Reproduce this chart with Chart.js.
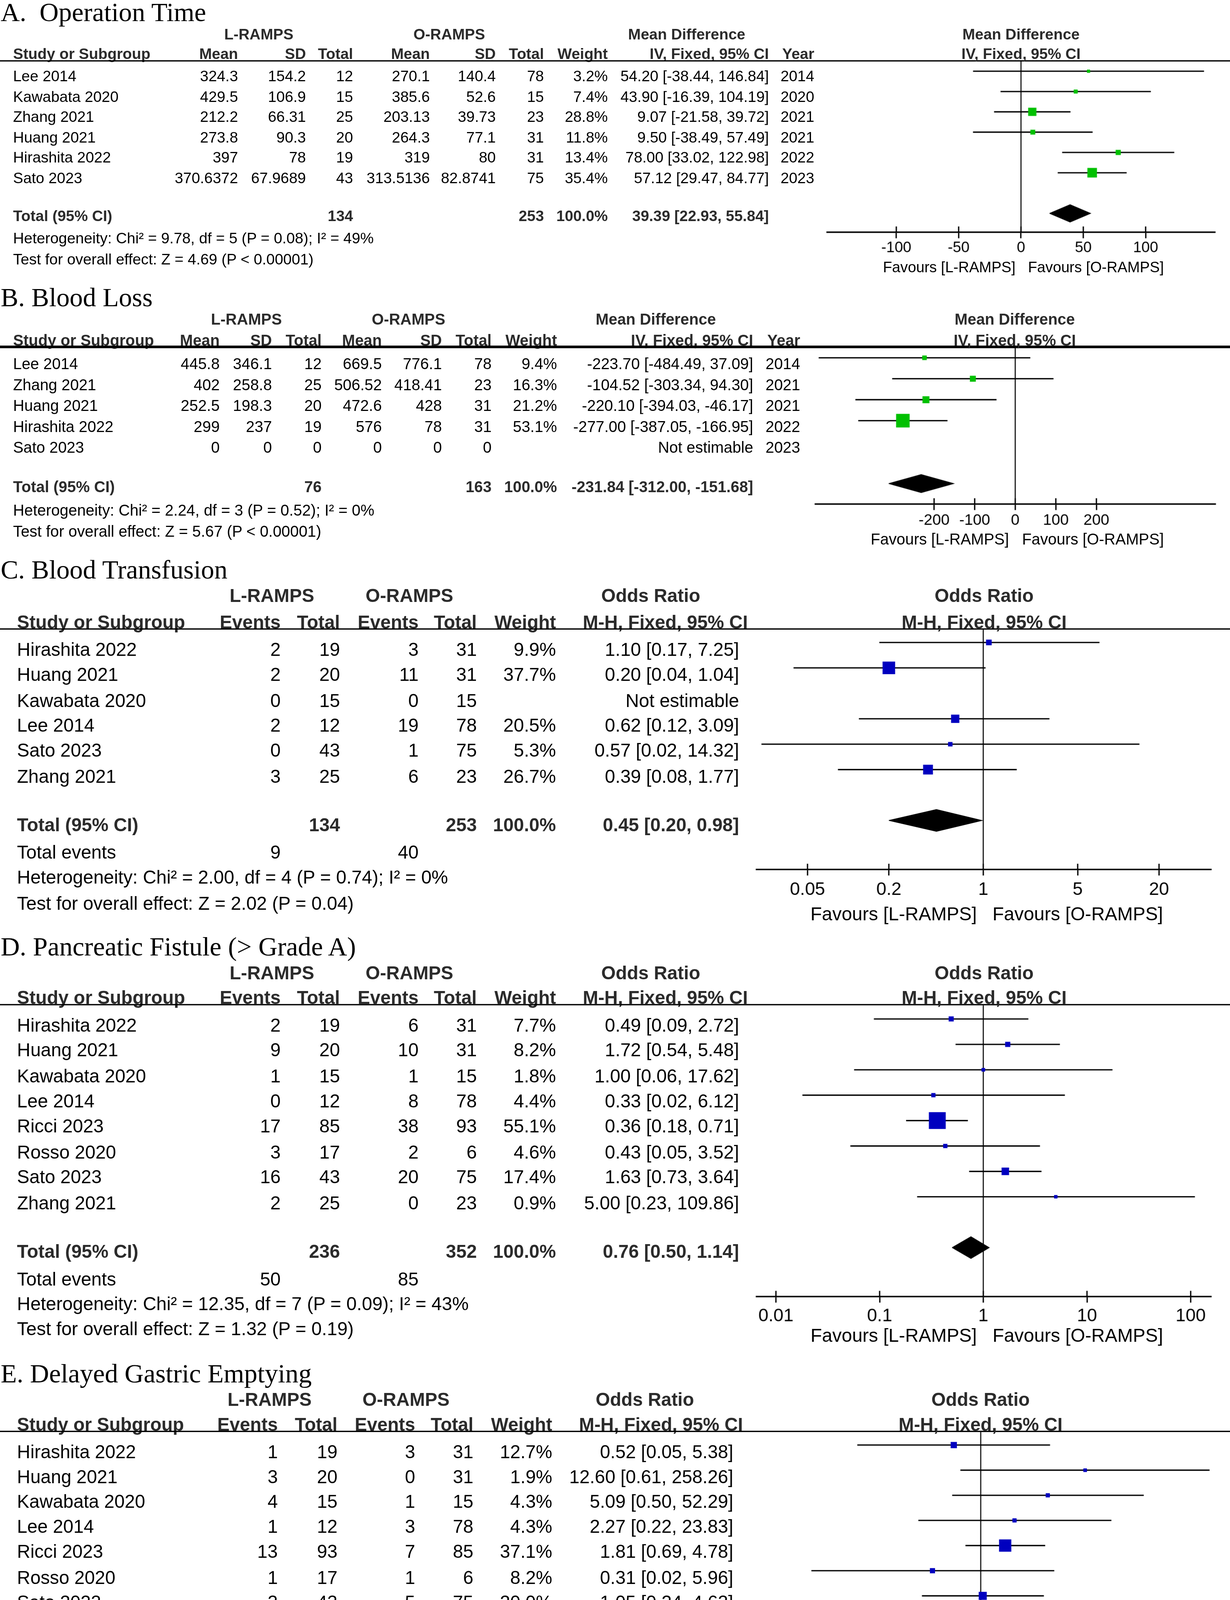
<!DOCTYPE html>
<html><head><meta charset="utf-8">
<script src="https://cdn.jsdelivr.net/npm/chart.js@4.4.1/dist/chart.umd.min.js"></script>
<style>
html,body{margin:0;padding:0;background:#fff;}
body{width:3150px;height:5273px;overflow:hidden;position:relative;}
#stage{position:absolute;left:0;top:0;width:940px;height:1574px;transform-origin:0 0;}
.t{position:absolute;line-height:0;white-space:pre;font-family:'Liberation Sans',Arial,Helvetica,sans-serif;color:#000;}
.r{transform:translateX(-100%);}
.c{transform:translateX(-50%);}
.b{font-weight:bold;color:#2b2b2b;}
.ttl{font-family:'Liberation Serif','Times New Roman',serif;font-size:20.2px;color:#000;}
.hl{position:absolute;left:0;width:940px;height:1.1px;background:#000;}
canvas{position:absolute;}
</style></head>
<body><div id="stage"></div>
<script>
// ---------------- DATA ----------------
// A. Operation Time (Mean Difference, IV, Fixed)
const A_study  = ["Lee 2014","Kawabata 2020","Zhang 2021","Huang 2021","Hirashita 2022","Sato 2023"];
const A_lMean  = [324.3,429.5,212.2,273.8,397,370.6372];
const A_lSD    = [154.2,106.9,66.31,90.3,78,67.9689];
const A_lN     = [12,15,25,20,19,43];
const A_oMean  = [270.1,385.6,203.13,264.3,319,313.5136];
const A_oSD    = [140.4,52.6,39.73,77.1,80,82.8741];
const A_oN     = [78,15,23,31,31,75];
const A_weight = [3.2,7.4,28.8,11.8,13.4,35.4];
const A_est    = [54.20,43.90,9.07,9.50,78.00,57.12];
const A_lo     = [-38.44,-16.39,-21.58,-38.49,33.02,29.47];
const A_hi     = [146.84,104.19,39.72,57.49,122.98,84.77];
const A_year   = [2014,2020,2021,2021,2022,2023];
const A_totalN = [134,253];
const A_pooled = [39.39,22.93,55.84];
const A_stats  = ["Heterogeneity: Chi\u00b2 = 9.78, df = 5 (P = 0.08); I\u00b2 = 49%","Test for overall effect: Z = 4.69 (P < 0.00001)"];
const A_ticks  = [-100,-50,0,50,100];
const A_tickLabels = ["-100","-50","0","50","100"];

// B. Blood Loss
const B_study  = ["Lee 2014","Zhang 2021","Huang 2021","Hirashita 2022","Sato 2023"];
const B_lMean  = [445.8,402,252.5,299,0];
const B_lSD    = [346.1,258.8,198.3,237,0];
const B_lN     = [12,25,20,19,0];
const B_oMean  = [669.5,506.52,472.6,576,0];
const B_oSD    = [776.1,418.41,428,78,0];
const B_oN     = [78,23,31,31,0];
const B_weight = [9.4,16.3,21.2,53.1,null];
const B_est    = [-223.70,-104.52,-220.10,-277.00,null];
const B_lo     = [-484.49,-303.34,-394.03,-387.05,null];
const B_hi     = [37.09,94.30,-46.17,-166.95,null];
const B_year   = [2014,2021,2021,2022,2023];
const B_totalN = [76,163];
const B_pooled = [-231.84,-312.00,-151.68];
const B_stats  = ["Heterogeneity: Chi\u00b2 = 2.24, df = 3 (P = 0.52); I\u00b2 = 0%","Test for overall effect: Z = 5.67 (P < 0.00001)"];
const B_ticks  = [-200,-100,0,100,200];
const B_tickLabels = ["-200","-100","0","100","200"];

// C. Blood Transfusion (Odds Ratio, M-H, Fixed)
const C_study  = ["Hirashita 2022","Huang 2021","Kawabata 2020","Lee 2014","Sato 2023","Zhang 2021"];
const C_lEv    = [2,2,0,2,0,3];
const C_lN     = [19,20,15,12,43,25];
const C_oEv    = [3,11,0,19,1,6];
const C_oN     = [31,31,15,78,75,23];
const C_weight = [9.9,37.7,null,20.5,5.3,26.7];
const C_est    = [1.10,0.20,null,0.62,0.57,0.39];
const C_lo     = [0.17,0.0394,null,0.12,0.0228,0.084];
const C_hi     = [7.25,1.04,null,3.09,14.32,1.77];
const C_totalN = [134,253];
const C_events = [9,40];
const C_pooled = [0.45,0.20,0.98];
const C_stats  = ["Heterogeneity: Chi\u00b2 = 2.00, df = 4 (P = 0.74); I\u00b2 = 0%","Test for overall effect: Z = 2.02 (P = 0.04)"];
const C_ticks  = [0.05,0.2,1,5,20];
const C_tickLabels = ["0.05","0.2","1","5","20"];

// D. Pancreatic Fistule (> Grade A)
const D_study  = ["Hirashita 2022","Huang 2021","Kawabata 2020","Lee 2014","Ricci 2023","Rosso 2020","Sato 2023","Zhang 2021"];
const D_lEv    = [2,9,1,0,17,3,16,2];
const D_lN     = [19,20,15,12,85,17,43,25];
const D_oEv    = [6,10,1,8,38,2,20,0];
const D_oN     = [31,31,15,78,93,6,75,23];
const D_weight = [7.7,8.2,1.8,4.4,55.1,4.6,17.4,0.9];
const D_est    = [0.49,1.72,1.00,0.33,0.36,0.43,1.63,5.00];
const D_lo     = [0.088,0.54,0.0567,0.018,0.18,0.0522,0.73,0.23];
const D_hi     = [2.72,5.48,17.62,6.12,0.71,3.52,3.64,109.86];
const D_totalN = [236,352];
const D_events = [50,85];
const D_pooled = [0.76,0.50,1.14];
const D_stats  = ["Heterogeneity: Chi\u00b2 = 12.35, df = 7 (P = 0.09); I\u00b2 = 43%","Test for overall effect: Z = 1.32 (P = 0.19)"];
const D_ticks  = [0.01,0.1,1,10,100];
const D_tickLabels = ["0.01","0.1","1","10","100"];

// E. Delayed Gastric Emptying
const E_study  = ["Hirashita 2022","Huang 2021","Kawabata 2020","Lee 2014","Ricci 2023","Rosso 2020","Sato 2023","Zhang 2021"];
const E_lEv    = [1,3,4,1,13,1,3,2];
const E_lN     = [19,20,15,12,93,17,43,25];
const E_oEv    = [3,0,1,3,7,1,5,2];
const E_oN     = [31,31,15,78,85,6,75,23];
const E_weight = [12.7,1.9,4.3,4.3,37.1,8.2,20.0,11.3];
const E_est    = [0.52,12.60,5.09,2.27,1.81,0.31,1.05,0.91];
const E_lo     = [0.05,0.61,0.50,0.22,0.69,0.0164,0.24,0.12];
const E_hi     = [5.38,258.26,52.29,23.83,4.78,5.96,4.63,7.07];
const E_totalN = [244,344];
const E_events = [28,22];
const E_pooled = [1.64,0.90,2.98];
const E_stats  = ["Heterogeneity: Chi\u00b2 = 5.58, df = 7 (P = 0.59); I\u00b2 = 0%","Test for overall effect: Z = 1.63 (P = 0.10)"];
const E_ticks  = [0.005,0.1,1,10,200];
const E_tickLabels = ["0.005","0.1","1","10","200"];

// F. Length of Stay (Mean Difference, IV, Random)
const F_study  = ["Hirashita 2022","Huang 2021","Lee 2014","Ricci 2023","Zhang 2021"];
const F_lMean  = [21.5,19,12.3,13,11.72];
const F_lSD    = [10.5,9.9,6.8,0.7,5.24];
const F_lN     = [19,20,12,93,25];
const F_oMean  = [29.4,19.6,22.4,11.9,12.921];
const F_oSD    = [23.3,16.8,21.6,6.4,5.02];
const F_oN     = [31,31,78,85,23];
const F_weight = [10.5,14.3,17.2,31.0,27.0];
const F_est    = [-7.90,-0.60,-10.10,1.10,-1.20];
const F_lo     = [-17.36,-7.93,-16.25,-0.27,-4.10];
const F_hi     = [1.56,6.73,-3.95,2.47,1.70];
const F_totalN = [169,248];
const F_pooled = [-2.63,-6.35,1.09];
const F_stats  = ["Heterogeneity: Tau\u00b2 = 11.12; Chi\u00b2 = 16.18, df = 4 (P = 0.003); I\u00b2 = 75%","Test for overall effect: Z = 1.39 (P = 0.17)"];
const F_ticks  = [-10,-5,0,5,10];
const F_tickLabels = ["-10","-5","0","5","10"];

// ---------------- LAYOUT (display units, scaled to 3150 px) ----------------
const LA = {titleY:8.7, grpY:25.8, colY:41.1, lineY:46.3, leftX:10.0, fs:11.6,
  colX:[181.9,233.8,269.8,328.5,378.9,415.7,464.5,587.6,622.3], ciHdrX:587.6, grpX:[197.8,343.3,524.8],
  row0:58.2, rowH:15.5, markOff:3.5,
  axis:{y:177.7, x0:632.1, x1:928.5, min:-155.6, max:155.6, log:false, tickFs:11.5, labelY:189.7, favY:204.1, favFs:11.4}};
const LB = {titleY:227.0, grpY:244.2, colY:260.2, lineY:265.0, leftX:10.0, fs:11.9,
  colX:[167.9,207.8,245.8,291.8,337.7,375.7,425.7,575.6,611.5], ciHdrX:575.6, grpX:[188.3,312.2,501.2],
  row0:277.5, rowH:16.0, markOff:4.2,
  axis:{y:385.0, x0:622.7, x1:928.3, min:-493, max:493, log:false, tickFs:11.8, labelY:397.4, favY:412.0, favFs:11.9}};
const LC = {titleY:435.3, grpY:455.4, colY:474.9, lineY:480.9, leftX:13.0, fs:14.2,
  colX:[214.5,259.8,319.9,364.4,424.9,564.8], ciHdrX:571.5, grpX:[207.8,312.9,497.3],
  row0:495.7, rowH:19.42, markOff:5.0,
  axis:{y:664.2, x0:578.4, x1:925.8, min:0.0209, max:48.5, log:true, tickFs:13.8, labelY:679.6, favY:697.7, favFs:14.3}};
const LD = {titleY:722.7, grpY:742.8, colY:761.6, lineY:767.6, leftX:13.0, fs:14.2,
  colX:[214.5,259.8,319.9,364.4,424.9,564.8], ciHdrX:571.5, grpX:[207.8,312.9,497.3],
  row0:782.8, rowH:19.39, markOff:4.8,
  axis:{y:990.0, x0:578.4, x1:925.8, min:0.00647, max:157, log:true, tickFs:13.8, labelY:1005.0, favY:1020.0, favFs:14.3}};
const LE = {titleY:1048.9, grpY:1068.7, colY:1088.0, lineY:1093.9, leftX:13.0, fs:14.1,
  colX:[212.3,257.9,317.3,361.8,422.0,560.4], ciHdrX:567.8, grpX:[206.0,310.3,492.8],
  row0:1108.5, rowH:19.2, markOff:4.7,
  axis:{y:1314.1, x0:573.0, x1:925.8, min:0.00368, max:270, log:true, tickFs:14, labelY:1329.4, favY:1344.5, favFs:14.3, favClip:1349}};
const LF = {titleY:1361.8, grpY:1379.7, colY:1397.3, lineY:1402.5, leftX:11.4, fs:13.1,
  colX:[185.7,221.9,263.8,314.8,350.9,393.2,448.4,582.4], ciHdrX:588.1, grpX:[203.6,329.2,516.1],
  row0:1416.4, rowH:17.6, markOff:4.4,
  axis:{y:1534.9, x0:595.2, x1:927.2, min:-17.56, max:17.56, log:false, tickFs:12.8, labelY:1548.8, favY:1564.3, favFs:13.1}};

const GREEN = '#00C000', BLUE = '#0000BF';
const SANS = "'Liberation Sans', Arial, Helvetica, sans-serif";

// ---------------- RENDER ----------------
const S = 3150 / 940;
const stage = document.getElementById('stage');
stage.style.transform = 'scale(' + S + ')';

function T(str, x, y, opt) {
  opt = opt || {};
  const d = document.createElement('div');
  d.className = 't' + (opt.align === 'r' ? ' r' : opt.align === 'c' ? ' c' : '') + (opt.bold ? ' b' : '') + (opt.serif ? ' ttl' : '');
  d.style.left = x + 'px';
  d.style.top = y + 'px';
  if (opt.fs) d.style.fontSize = opt.fs + 'px';
  d.textContent = str;
  (opt.parent || stage).appendChild(d);
  return d;
}
const fN = v => (v == null ? '' : String(v));
const f2 = v => v.toFixed(2);
const ciStr = (e, l, h) => (e == null ? 'Not estimable' : f2(e) + ' [' + f2(l) + ', ' + f2(h) + ']');
const wStr = w => (w == null ? '' : w.toFixed(1) + '%');

const forestPlugin = {
  id: 'forest',
  beforeDatasetsDraw(chart, args, opts) {
    const ctx = chart.ctx, a = chart.chartArea, x = chart.scales.x;
    ctx.save();
    ctx.strokeStyle = '#000';
    ctx.lineWidth = 0.8;
    const px = x.getPixelForValue(opts.nullValue);
    ctx.beginPath(); ctx.moveTo(px, a.top); ctx.lineTo(px, a.bottom); ctx.stroke();
    ctx.lineWidth = 1;
    ctx.beginPath();
    x.ticks.forEach(t => { const p = x.getPixelForValue(t.value); ctx.moveTo(p, a.bottom - opts.tick); ctx.lineTo(p, a.bottom); });
    ctx.stroke();
    ctx.restore();
  }
};

function buildPlot(L, est, lo, hi, w, pooled, color, nullVal, ticks, tickLabels, grpHdr, ciHdr) {
  const ax = L.axis, n = est.length;
  const PADX = 30, TL = 4.5;
  const len = ax.x1 - ax.x0;
  const W = Math.ceil(len + 2 * PADX);
  const plotH = ax.y - L.lineY;
  const pad = ax.labelY - ax.y - TL - 0.6 * ax.tickFs;
  const H = Math.ceil(plotH + TL + pad + 1.2 * ax.tickFs + 4);
  const AXH = H - plotH;
  const m0 = L.row0 - L.markOff;
  const yMin = (L.lineY - m0) / L.rowH, yMax = (ax.y - m0) / L.rowH;
  const left = ax.x0 - PADX;
  const cv = document.createElement('canvas');
  cv.width = W; cv.height = H;
  cv.style.left = left + 'px';
  cv.style.top = L.lineY + 'px';
  stage.appendChild(cv);

  const sq = [], sqW = [];
  est.forEach((e, i) => { if (e != null) { sq.push({x: e, y: i}); sqW.push(w[i]); } });
  const datasets = [{
    data: sq, pointStyle: 'rect', backgroundColor: color, borderColor: color, borderWidth: 0,
    pointRadius: c => L.rowH * (0.125 + 0.0098 * sqW[c.dataIndex]) / Math.SQRT2,
    pointHoverRadius: c => L.rowH * (0.125 + 0.0098 * sqW[c.dataIndex]) / Math.SQRT2
  }];
  est.forEach((e, i) => {
    if (e != null) datasets.push({data: [{x: lo[i], y: i}, {x: hi[i], y: i}], showLine: true,
      borderColor: '#000', borderWidth: 1, pointRadius: 0, pointHoverRadius: 0});
  });
  const yc = n + 1, hh = 0.43;
  datasets.push({type: 'line',
    data: [{x: pooled[1], y: yc}, {x: pooled[0], y: yc - hh}, {x: pooled[2], y: yc}, {x: pooled[0], y: yc + hh}, {x: pooled[1], y: yc}],
    fill: 'shape', backgroundColor: '#000', borderColor: '#000', borderWidth: 0.5, pointRadius: 0, pointHoverRadius: 0, tension: 0});

  const chart = new Chart(cv, {
    type: 'scatter',
    data: {datasets},
    options: {
      responsive: false, maintainAspectRatio: false, animation: false, events: [],
      devicePixelRatio: S,
      layout: {autoPadding: false, padding: {left: PADX, right: W - PADX - len, top: 0, bottom: 0}},
      plugins: {legend: {display: false}, tooltip: {enabled: false}, forest: {nullValue: nullVal, tick: TL}},
      scales: {
        x: {
          type: ax.log ? 'logarithmic' : 'linear', min: ax.min, max: ax.max, position: 'bottom',
          afterBuildTicks: s => { s.ticks = ticks.map(v => ({value: v})); },
          afterFit: s => { s.height = AXH; s.paddingLeft = 0; s.paddingRight = 0; },
          ticks: {autoSkip: false, maxRotation: 0, minRotation: 0, padding: pad, color: '#000',
            font: {family: SANS, size: ax.tickFs}, callback: (v, i) => tickLabels[i]},
          grid: {display: true, drawOnChartArea: false, drawTicks: true, tickLength: TL, color: '#000', lineWidth: 1},
          border: {display: true, color: '#000', width: 1.1}
        },
        y: {type: 'linear', display: false, reverse: true, min: yMin, max: yMax}
      }
    },
    plugins: [forestPlugin]
  });

  // plot headers and favours labels
  const cx = (ax.x0 + ax.x1) / 2;
  T(grpHdr, cx, L.grpY, {align: 'c', bold: true, fs: L.fs});
  T(ciHdr, cx, L.colY, {align: 'c', bold: true, fs: L.fs});
  const nullPx = left + chart.scales.x.getPixelForValue(nullVal);
  let parent = stage, yOff = 0;
  if (ax.favClip) {
    const wrap = document.createElement('div');
    wrap.style.cssText = 'position:absolute;left:0;width:940px;overflow:hidden;top:' + (ax.favY - 12) + 'px;height:' + (ax.favClip - ax.favY + 12) + 'px;';
    stage.appendChild(wrap);
    parent = wrap; yOff = ax.favY - 12;
  }
  T('Favours [L-RAMPS]', nullPx - 0.37 * ax.favFs, ax.favY - yOff, {align: 'r', fs: ax.favFs, parent});
  T('Favours [O-RAMPS]', nullPx + 0.47 * ax.favFs, ax.favY - yOff, {fs: ax.favFs, parent});
  return chart;
}

function hline(y) {
  const d = document.createElement('div');
  d.className = 'hl';
  d.style.top = (y - 0.55) + 'px';
  stage.appendChild(d);
}

function mdPanel(L, title, study, lMean, lSD, lN, oMean, oSD, oN, weight, est, lo, hi, year, totalN, pooled, stats, ticks, tickLabels, ciHdr) {
  const fs = L.fs, n = study.length;
  T(title, 0.5, L.titleY, {serif: true});
  T('L-RAMPS', L.grpX[0], L.grpY, {align: 'c', bold: true, fs});
  T('O-RAMPS', L.grpX[1], L.grpY, {align: 'c', bold: true, fs});
  T('Mean Difference', L.grpX[2], L.grpY, {align: 'c', bold: true, fs});
  T('Study or Subgroup', L.leftX, L.colY, {bold: true, fs});
  const hdr = ['Mean', 'SD', 'Total', 'Mean', 'SD', 'Total', 'Weight', ciHdr];
  if (year) hdr.push('Year');
  hdr.forEach((h, j) => T(h, j === 7 ? L.ciHdrX : L.colX[j], L.colY, {align: 'r', bold: true, fs}));
  hline(L.lineY);
  for (let i = 0; i < n; i++) {
    const y = L.row0 + i * L.rowH;
    T(study[i], L.leftX, y, {fs});
    const vals = [fN(lMean[i]), fN(lSD[i]), fN(lN[i]), fN(oMean[i]), fN(oSD[i]), fN(oN[i]), wStr(weight[i]), ciStr(est[i], lo[i], hi[i])];
    if (year) vals.push(String(year[i]));
    vals.forEach((v, j) => T(v, L.colX[j], y, {align: 'r', fs}));
  }
  const yt = L.row0 + (n + 0.92) * L.rowH;
  T('Total (95% CI)', L.leftX, yt, {bold: true, fs});
  T(String(totalN[0]), L.colX[2], yt, {align: 'r', bold: true, fs});
  T(String(totalN[1]), L.colX[5], yt, {align: 'r', bold: true, fs});
  T('100.0%', L.colX[6], yt, {align: 'r', bold: true, fs});
  T(ciStr(pooled[0], pooled[1], pooled[2]), L.colX[7], yt, {align: 'r', bold: true, fs});
  T(stats[0], L.leftX, L.row0 + (n + 2) * L.rowH, {fs});
  T(stats[1], L.leftX, L.row0 + (n + 3) * L.rowH, {fs});
  buildPlot(L, est, lo, hi, weight, pooled, GREEN, 0, ticks, tickLabels, 'Mean Difference', ciHdr);
}

function orPanel(L, title, study, lEv, lN, oEv, oN, weight, est, lo, hi, totalN, events, pooled, stats, ticks, tickLabels) {
  const fs = L.fs, n = study.length;
  const ciHdr = 'M-H, Fixed, 95% CI';
  T(title, 0.5, L.titleY, {serif: true});
  T('L-RAMPS', L.grpX[0], L.grpY, {align: 'c', bold: true, fs});
  T('O-RAMPS', L.grpX[1], L.grpY, {align: 'c', bold: true, fs});
  T('Odds Ratio', L.grpX[2], L.grpY, {align: 'c', bold: true, fs});
  T('Study or Subgroup', L.leftX, L.colY, {bold: true, fs});
  ['Events', 'Total', 'Events', 'Total', 'Weight', ciHdr].forEach((h, j) =>
    T(h, j === 5 ? L.ciHdrX : L.colX[j], L.colY, {align: 'r', bold: true, fs}));
  hline(L.lineY);
  for (let i = 0; i < n; i++) {
    const y = L.row0 + i * L.rowH;
    T(study[i], L.leftX, y, {fs});
    [fN(lEv[i]), fN(lN[i]), fN(oEv[i]), fN(oN[i]), wStr(weight[i]), ciStr(est[i], lo[i], hi[i])]
      .forEach((v, j) => T(v, L.colX[j], y, {align: 'r', fs}));
  }
  const yt = L.row0 + (n + 0.92) * L.rowH;
  T('Total (95% CI)', L.leftX, yt, {bold: true, fs});
  T(String(totalN[0]), L.colX[1], yt, {align: 'r', bold: true, fs});
  T(String(totalN[1]), L.colX[3], yt, {align: 'r', bold: true, fs});
  T('100.0%', L.colX[4], yt, {align: 'r', bold: true, fs});
  T(ciStr(pooled[0], pooled[1], pooled[2]), L.colX[5], yt, {align: 'r', bold: true, fs});
  const ye = L.row0 + (n + 2) * L.rowH;
  T('Total events', L.leftX, ye, {fs});
  T(String(events[0]), L.colX[0], ye, {align: 'r', fs});
  T(String(events[1]), L.colX[2], ye, {align: 'r', fs});
  T(stats[0], L.leftX, L.row0 + (n + 3) * L.rowH, {fs});
  T(stats[1], L.leftX, L.row0 + (n + 4) * L.rowH, {fs});
  buildPlot(L, est, lo, hi, weight, pooled, BLUE, 1, ticks, tickLabels, 'Odds Ratio', ciHdr);
}

mdPanel(LA, 'A.  Operation Time', A_study, A_lMean, A_lSD, A_lN, A_oMean, A_oSD, A_oN, A_weight, A_est, A_lo, A_hi, A_year, A_totalN, A_pooled, A_stats, A_ticks, A_tickLabels, 'IV, Fixed, 95% CI');
mdPanel(LB, 'B. Blood Loss', B_study, B_lMean, B_lSD, B_lN, B_oMean, B_oSD, B_oN, B_weight, B_est, B_lo, B_hi, B_year, B_totalN, B_pooled, B_stats, B_ticks, B_tickLabels, 'IV, Fixed, 95% CI');
orPanel(LC, 'C. Blood Transfusion', C_study, C_lEv, C_lN, C_oEv, C_oN, C_weight, C_est, C_lo, C_hi, C_totalN, C_events, C_pooled, C_stats, C_ticks, C_tickLabels);
orPanel(LD, 'D. Pancreatic Fistule (> Grade A)', D_study, D_lEv, D_lN, D_oEv, D_oN, D_weight, D_est, D_lo, D_hi, D_totalN, D_events, D_pooled, D_stats, D_ticks, D_tickLabels);
orPanel(LE, 'E. Delayed Gastric Emptying', E_study, E_lEv, E_lN, E_oEv, E_oN, E_weight, E_est, E_lo, E_hi, E_totalN, E_events, E_pooled, E_stats, E_ticks, E_tickLabels);
mdPanel(LF, 'F. Length of Stay', F_study, F_lMean, F_lSD, F_lN, F_oMean, F_oSD, F_oN, F_weight, F_est, F_lo, F_hi, null, F_totalN, F_pooled, F_stats, F_ticks, F_tickLabels, 'IV, Random, 95% CI');
</script>
</body></html>
